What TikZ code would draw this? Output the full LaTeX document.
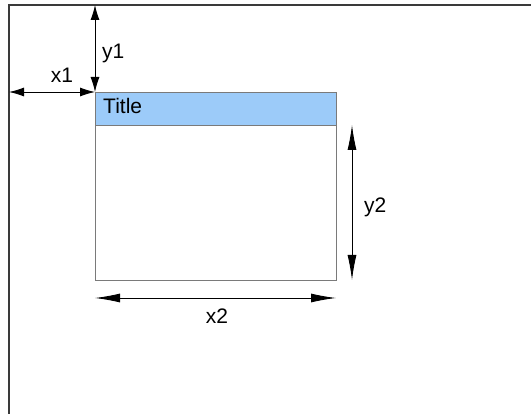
\documentclass[tikz,border=0pt]{standalone}
\usepackage{fontspec}
\setmainfont{Liberation Sans}
\usetikzlibrary{arrows.meta}
\definecolor{titleblue}{HTML}{9CCBF9}
\definecolor{boxgray}{HTML}{7A7A7A}
\definecolor{framegray}{HTML}{3A3A3A}
\tikzset{
  lbl/.style={font=\fontsize{21}{24}\selectfont, inner sep=0pt},
  dimshort/.style={line width=0.9pt, {Latex[length=15pt,width=9pt]}-{Latex[length=15pt,width=9pt]}},
  dimlong/.style={line width=0.9pt, {Latex[length=25pt,width=9pt]}-{Latex[length=25pt,width=9pt]}},
  frameline/.style={framegray, line width=1.3pt},
}
\begin{document}
\begin{tikzpicture}[x=1pt,y=-1pt]
  \useasboundingbox (0,0) rectangle (531,414);

  % page edges
  \coordinate (pageTL) at (9,5);
  \coordinate (pageTR) at (531,5);
  \coordinate (pageBL) at (9,414);
  \draw[frameline] (pageTR) -- (pageTL) -- (pageBL);

  % window with its title bar
  \node[draw=boxgray, line width=0.9pt, minimum width=241pt, minimum height=188pt,
        inner sep=0pt, anchor=north west] (win) at (95,92) {};
  \node[draw=boxgray, fill=titleblue, line width=0.9pt, minimum width=241pt,
        minimum height=33pt, inner sep=0pt, anchor=north west] (bar) at (95,92) {};
  \node[lbl, anchor=base west] (title) at (103,114) {Title};

  % offsets from the page edges
  \coordinate (x1L) at (9,92);
  \draw[dimshort] (x1L) -- (win.north west);
  \node[lbl, anchor=base] (x1) at (62,83) {x1};

  \coordinate (y1T) at (95,5);
  \draw[dimshort] (y1T) -- (win.north west);
  \node[lbl, anchor=base west] (y1) at (102,59) {y1};

  % window size
  \coordinate (x2L) at (95,298);
  \coordinate (x2R) at (336,298);
  \draw[dimlong] (x2L) -- (x2R);
  \node[lbl, anchor=base] (x2) at (217,324) {x2};

  \coordinate (y2T) at (352,125);
  \coordinate (y2B) at (352,280);
  \draw[dimlong] (y2T) -- (y2B);
  \node[lbl, anchor=base west] (y2) at (364,213) {y2};
\end{tikzpicture}
\end{document}
